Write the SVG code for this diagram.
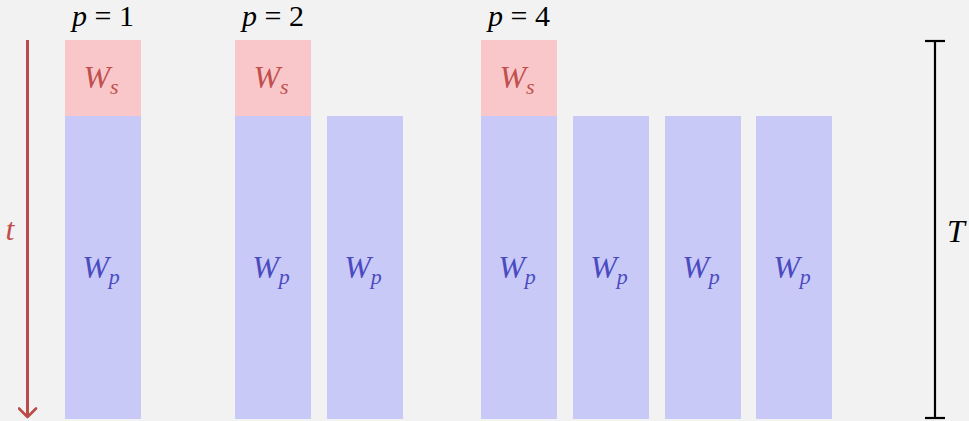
<svg xmlns="http://www.w3.org/2000/svg" width="969" height="421" viewBox="0 0 969 421">
<style>
.ws{fill:#f9c7ca}
.wp{fill:#c9c9f8}
.lbl{font-family:'Liberation Serif','Times New Roman',Tinos,'DejaVu Serif',serif;font-size:30px}
.big{font-size:32px}
.it{font-style:italic}
.red{fill:#c0504d}
.blue{fill:#4b4bc0}
.sub{font-size:22px}
</style>
<defs>
<marker id="ah" viewBox="0 0 12 20" refX="10" refY="10" markerWidth="12" markerHeight="20" markerUnits="userSpaceOnUse" orient="auto">
<path d="M1.5,1.5 L10,10 L1.5,18.5" fill="none" stroke="#b94b4b" stroke-width="2.6" stroke-linecap="round" stroke-linejoin="round"/>
</marker>
</defs>
<rect width="969" height="421" fill="#f2f2f2"/>
<g id="titles" class="lbl">
<text x="103" y="26" text-anchor="middle"><tspan class="it">p</tspan> = 1</text>
<text x="273" y="26" text-anchor="middle"><tspan class="it">p</tspan> = 2</text>
<text x="519" y="26" text-anchor="middle"><tspan class="it">p</tspan> = 4</text>
</g>
<g id="p1" class="lbl big">
<rect class="ws" x="65" y="40" width="76" height="76"/>
<rect class="wp" x="65" y="116" width="76" height="303"/>
<text class="it red" x="101" y="88" text-anchor="middle">W<tspan class="sub" dy="6">s</tspan></text>
<text class="it blue" x="101" y="278" text-anchor="middle">W<tspan class="sub" dy="6">p</tspan></text>
</g>
<g id="p2" class="lbl big">
<rect class="ws" x="235" y="40" width="76" height="76"/>
<rect class="wp" x="235" y="116" width="76" height="303"/>
<rect class="wp" x="327" y="116" width="76" height="303"/>
<text class="it red" x="271" y="88" text-anchor="middle">W<tspan class="sub" dy="6">s</tspan></text>
<text class="it blue" x="271" y="278" text-anchor="middle">W<tspan class="sub" dy="6">p</tspan></text>
<text class="it blue" x="363" y="278" text-anchor="middle">W<tspan class="sub" dy="6">p</tspan></text>
</g>
<g id="p4" class="lbl big">
<rect class="ws" x="481" y="40" width="76" height="76"/>
<rect class="wp" x="481" y="116" width="76" height="303"/>
<rect class="wp" x="573" y="116" width="76" height="303"/>
<rect class="wp" x="665" y="116" width="76" height="303"/>
<rect class="wp" x="756" y="116" width="76" height="303"/>
<text class="it red" x="517" y="88" text-anchor="middle">W<tspan class="sub" dy="6">s</tspan></text>
<text class="it blue" x="517" y="278" text-anchor="middle">W<tspan class="sub" dy="6">p</tspan></text>
<text class="it blue" x="609" y="278" text-anchor="middle">W<tspan class="sub" dy="6">p</tspan></text>
<text class="it blue" x="701" y="278" text-anchor="middle">W<tspan class="sub" dy="6">p</tspan></text>
<text class="it blue" x="792" y="278" text-anchor="middle">W<tspan class="sub" dy="6">p</tspan></text>
</g>
<g id="connectors">
<line x1="27.5" y1="40" x2="27.5" y2="417" stroke="#b94b4b" stroke-width="3" marker-end="url(#ah)"/>
<line x1="935" y1="40" x2="935" y2="419" stroke="#000" stroke-width="2.2"/>
<line x1="925" y1="41" x2="945" y2="41" stroke="#000" stroke-width="2.2"/>
<line x1="925" y1="418" x2="945" y2="418" stroke="#000" stroke-width="2.2"/>
</g>
<g id="axislabels" class="lbl it big">
<text class="red" x="10" y="240" text-anchor="middle">t</text>
<text x="956" y="242" text-anchor="middle">T</text>
</g>
</svg>
